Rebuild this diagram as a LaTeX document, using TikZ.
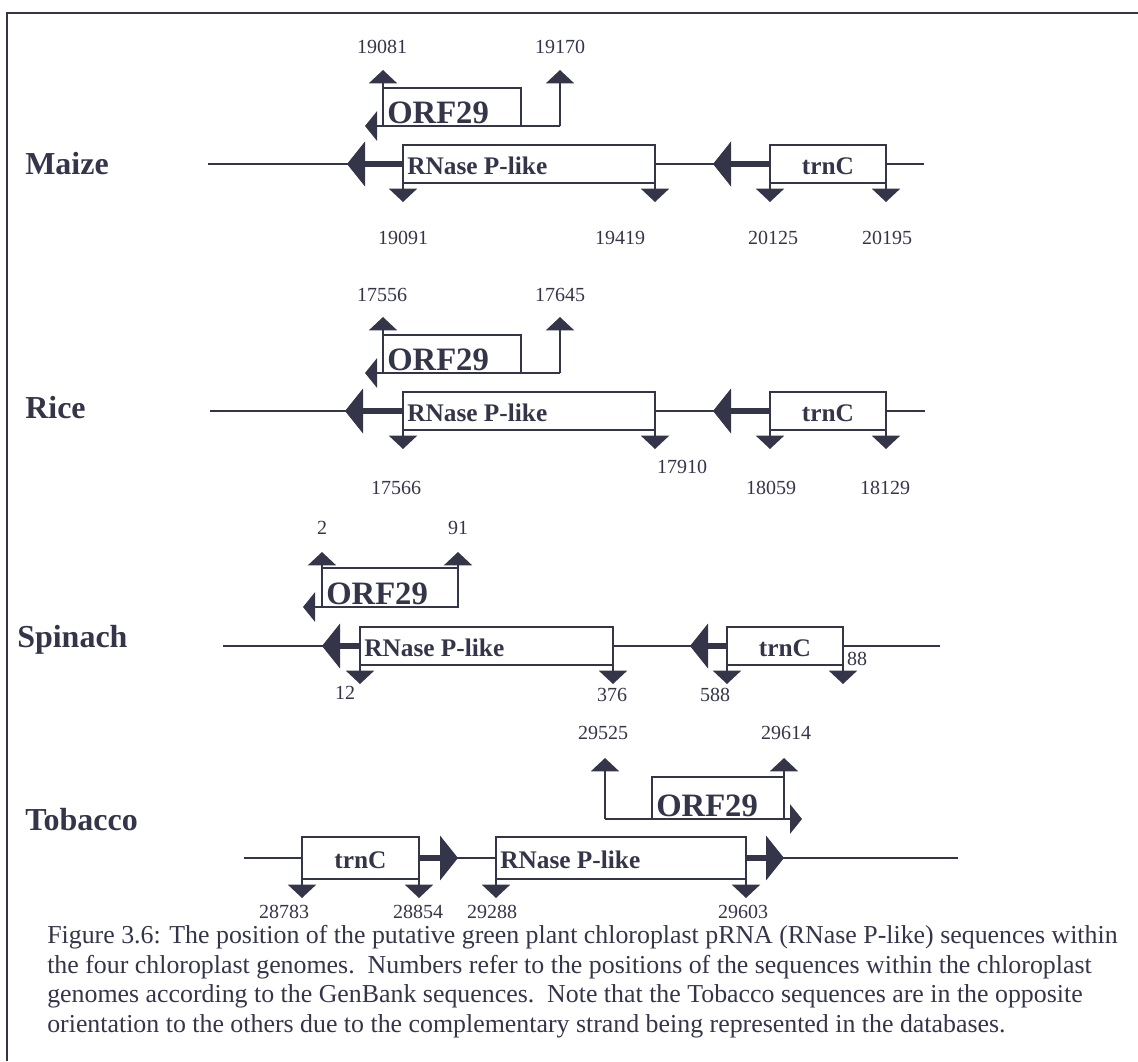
\documentclass[tikz,border=0pt]{standalone}
\usepackage{fontspec}
\setmainfont{Liberation Serif}
\usetikzlibrary{arrows.meta,fit}
\definecolor{ink}{HTML}{35354A}
\tikzset{strand/.style={ink,line width=1.5pt},
  genebox/.style={draw=ink,line width=1.6pt,inner sep=0pt,outer sep=0pt},
  genename/.style={font=\fontsize{19}{19}\selectfont\bfseries,text=ink,inner sep=0pt},
  orfname/.style={font=\fontsize{24.5}{24.5}\selectfont\bfseries,text=ink,inner sep=0pt},
  species/.style={font=\fontsize{24}{24}\selectfont\bfseries,text=ink,inner sep=0pt},
  poslabel/.style={font=\fontsize{15}{15}\selectfont,text=ink,inner sep=0pt},
  dirarr/.style={ink,line width=4.5pt,-{Triangle[length=13.5pt,width=33pt]}},
  orfarr/.style={ink,line width=1.5pt,-{Triangle[length=9pt,width=22pt]}},
  endmark/.style={ink,line width=1.5pt,-{Triangle[length=10pt,width=21pt]}},
  caption/.style={font=\fontsize{19.4}{22.3}\selectfont,text=ink,align=left,inner sep=0pt}}
\begin{document}
\begin{tikzpicture}[x=.75pt,y=-.75pt]
\useasboundingbox (0,0) rectangle (1138,1061);
\draw[ink,line width=1.5pt] (1138,13) -- (7,13) -- (7,1061);
% Maize
\node[species,anchor=west] (mz) at (25,164) {Maize};
\coordinate (mzL) at (208,164); \coordinate (mzR) at (924,164);
\coordinate (mzA) at (347,164); \coordinate (mzB) at (713,164);
\node[genebox,fit={(403,145) (655,183)}] (mzrna) {};
\node[genebox,fit={(770,145) (886,183)}] (mztrn) {};
\node[genename,anchor=west] (mzrnat) at ([xshift=3pt,yshift=-1.5pt]mzrna.west) {RNase P-like};
\node[genename] (mztrnt) at ([yshift=-1.5pt]mztrn.center) {trnC};
\draw[strand] (mzL) -- (mzrna.west) (mzrna.east) -- (mztrn.west) (mztrn.east) -- (mzR);
\draw[dirarr] (mzrna.west) -- (mzA);
\draw[dirarr] (mztrn.west) -- (mzB);
\node[genebox,fit={(383,88) (521,126)}] (mzorf) {};
\node[orfname,anchor=base west] (mzorft) at ([xshift=3pt,yshift=2pt]mzorf.south west) {ORF29};
\coordinate (mzorfR) at (560,126); \coordinate (mzorfT) at (365,126);
\draw[endmark] (mzorf.north west) -- ++(0,-18);
\draw[endmark] (mzorfR) -- ++(0,-56);
\draw[orfarr] (mzorfR) -- (mzorfT);
% Rice
\node[species,anchor=west] (ri) at (25,408) {Rice};
\coordinate (riL) at (210,411); \coordinate (riR) at (925,411);
\coordinate (riA) at (345,411); \coordinate (riB) at (713,411);
\node[genebox,fit={(403,392) (655,430)}] (rirna) {};
\node[genebox,fit={(770,392) (886,430)}] (ritrn) {};
\node[genename,anchor=west] (rirnat) at ([xshift=3pt,yshift=-1.5pt]rirna.west) {RNase P-like};
\node[genename] (ritrnt) at ([yshift=-1.5pt]ritrn.center) {trnC};
\draw[strand] (riL) -- (rirna.west) (rirna.east) -- (ritrn.west) (ritrn.east) -- (riR);
\draw[dirarr] (rirna.west) -- (riA);
\draw[dirarr] (ritrn.west) -- (riB);
\node[genebox,fit={(383,335) (521,373)}] (riorf) {};
\node[orfname,anchor=base west] (riorft) at ([xshift=3pt,yshift=2pt]riorf.south west) {ORF29};
\coordinate (riorfR) at (560,373); \coordinate (riorfT) at (365,373);
\draw[endmark] (riorf.north west) -- ++(0,-18);
\draw[endmark] (riorfR) -- ++(0,-56);
\draw[orfarr] (riorfR) -- (riorfT);
% Spinach
\node[species,anchor=west] (sp) at (17,640) {Spinach};
\coordinate (spL) at (223,646); \coordinate (spR) at (940,646);
\coordinate (spA) at (322,646); \coordinate (spB) at (690,646);
\node[genebox,fit={(360,627) (613,665)}] (sprna) {};
\node[genebox,fit={(727,627) (843,665)}] (sptrn) {};
\node[genename,anchor=west] (sprnat) at ([xshift=3pt,yshift=-1.5pt]sprna.west) {RNase P-like};
\node[genename] (sptrnt) at ([yshift=-1.5pt]sptrn.center) {trnC};
\draw[strand] (spL) -- (sprna.west) (sprna.east) -- (sptrn.west) (sptrn.east) -- (spR);
\draw[dirarr] (sprna.west) -- (spA);
\draw[dirarr] (sptrn.west) -- (spB);
\node[genebox,fit={(322,568) (458,607)}] (sporf) {};
\node[orfname,anchor=base west] (sporft) at ([xshift=3pt,yshift=2pt]sporf.south west) {ORF29};
\coordinate (sporfT) at (303,607);
\draw[endmark] (sporf.north west) -- ++(0,-16);
\draw[endmark] (sporf.north east) -- ++(0,-16);
\draw[orfarr] (sporf.south east) -- (sporfT);
% Tobacco
\node[species,anchor=west] (tb) at (25,820) {Tobacco};
\coordinate (tbL) at (244,858); \coordinate (tbR) at (958,858);
\coordinate (tbA) at (458,858); \coordinate (tbB) at (784,858);
\node[genebox,fit={(302,837) (419,879)}] (tbtrn) {};
\node[genebox,fit={(496,837) (746,879)}] (tbrna) {};
\node[genename,anchor=west] (tbrnat) at ([xshift=3pt,yshift=-1.5pt]tbrna.west) {RNase P-like};
\node[genename] (tbtrnt) at ([yshift=-1.5pt]tbtrn.center) {trnC};
\draw[strand] (tbL) -- (tbtrn.west) (tbtrn.east) -- (tbrna.west) (tbrna.east) -- (tbR);
\draw[dirarr] (tbtrn.east) -- (tbA);
\draw[dirarr] (tbrna.east) -- (tbB);
\node[genebox,fit={(652,777) (784,819)}] (tborf) {};
\node[orfname,anchor=base west] (tborft) at ([xshift=3pt,yshift=2pt]tborf.south west) {ORF29};
\coordinate (tborfL) at (605,819); \coordinate (tborfT) at (802,819);
\draw[endmark] (tborfL) -- ++(0,-61);
\draw[endmark] (tborf.north east) -- ++(0,-19);
\draw[orfarr] (tborfL) -- (tborfT);
% end marks under the boxes
\foreach \g in {mzrna,mztrn,rirna,ritrn,sprna,sptrn,tbtrn,tbrna}{
  \draw[endmark] (\g.south west) -- ++(0,19);
  \draw[endmark] (\g.south east) -- ++(0,19);}
% positions
\foreach \x/\y/\t in {382/47/19081,560/47/19170,403/238/19091,620/238/19419,773/238/20125,887/238/20195,
  382/295/17556,560/295/17645,396/488/17566,682/467/17910,771/488/18059,885/488/18129,
  322/528/2,458/528/91,345/693/12,612/695/376,715/695/588,857/659/88,
  603/733/29525,786/733/29614,284/912/28783,418/912/28854,492/912/29288,743/912/29603}
  \node[poslabel] (p\t) at (\x,\y) {\t};
\node[caption,anchor=north west] (cap) at (47,925) {Figure 3.6: The position of the putative green plant chloroplast pRNA (RNase P-like) sequences within\\
the four chloroplast genomes.\ \ Numbers refer to the positions of the sequences within the chloroplast\\
genomes according to the GenBank sequences.\ \ Note that the Tobacco sequences are in the opposite\\
orientation to the others due to the complementary strand being represented in the databases.};
\end{tikzpicture}
\end{document}
